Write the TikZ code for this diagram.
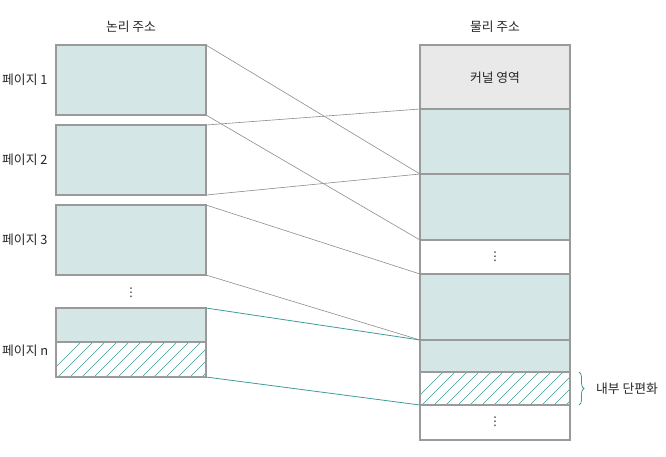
\documentclass[tikz,border=0pt]{standalone}
\usepackage{fontspec}
\setmainfont{Noto Sans CJK KR}
\newfontfamily\dotsfont{DejaVu Sans}
\usetikzlibrary{decorations.pathreplacing}
\definecolor{tealfill}{HTML}{D4E6E5}
\definecolor{boxline}{HTML}{9A9A9A}
\definecolor{kernfill}{HTML}{E9E9E9}
\definecolor{tealline}{HTML}{3E9C96}
\definecolor{mapline}{HTML}{8C8C8C}
\tikzset{
  pagebox/.style={draw=boxline, line width=1.2pt, fill=tealfill},
  whitebox/.style={draw=boxline, line width=1.2pt, fill=white},
  kernbox/.style={draw=boxline, line width=1.2pt, fill=kernfill},
  lbl/.style={font=\fontsize{12.8}{15}\selectfont, inner sep=0pt, text=black!85},
  vdot/.style={font=\dotsfont\fontsize{12}{12}\selectfont, inner sep=0pt, text=black!85},
  grayconn/.style={draw=mapline, line width=0.6pt},
  tealconn/.style={draw=tealline, line width=0.8pt},
  hatchline/.style={draw=tealline, line width=0.6pt},
}
\begin{document}
\begin{tikzpicture}[x=1pt,y=-1pt]
\useasboundingbox (0,0) rectangle (666,456);
% left column
\node[lbl] (lt) at (131,27) {논리 주소};
\path[pagebox] (56,45) rectangle (206,115);
\coordinate (p1t) at (206,45); \coordinate (p1b) at (206,115);
\path[pagebox] (56,125) rectangle (206,195);
\coordinate (p2t) at (206,125); \coordinate (p2b) at (206,195);
\path[pagebox] (56,205) rectangle (206,275);
\coordinate (p3t) at (206,205); \coordinate (p3b) at (206,275);
\node[vdot] (ldots) at (131,293) {⋮};
\path[pagebox] (56,308) rectangle (206,342);
\begin{scope}
\clip (56,342) rectangle (206,377);
\foreach \i in {0,...,16} {
  \draw[hatchline] (46+\i*12,377) -- (81+\i*12,342);
}
\end{scope}
\draw[boxline, line width=1.2pt] (56,342) rectangle (206,377);
\coordinate (pnt) at (206,308); \coordinate (pnb) at (206,377);
\node[lbl, anchor=west] (l1) at (2,80) {페이지 1};
\node[lbl, anchor=west] (l2) at (2,160) {페이지 2};
\node[lbl, anchor=west] (l3) at (2,240) {페이지 3};
\node[lbl, anchor=west] (ln) at (2,351) {페이지 n};
% right column
\node[lbl] (rt) at (495,27) {물리 주소};
\path[kernbox] (420,45) rectangle (570,109);
\node[lbl] (kern) at (495,78) {커널 영역};
\path[pagebox] (420,109) rectangle (570,174);
\path[pagebox] (420,174) rectangle (570,240);
\path[whitebox] (420,240) rectangle (570,274);
\node[vdot] (rd1) at (495,257) {⋮};
\path[pagebox] (420,274) rectangle (570,340);
\path[pagebox] (420,340) rectangle (570,372);
\begin{scope}
\clip (420,372) rectangle (570,405);
\foreach \i in {0,...,16} {
  \draw[hatchline] (410+\i*12,405) -- (443+\i*12,372);
}
\end{scope}
\draw[boxline, line width=1.2pt] (420,372) rectangle (570,405);
\path[whitebox] (420,405) rectangle (570,440);
\node[vdot] (rd2) at (495,422) {⋮};
\coordinate (f109) at (420,109);
\coordinate (f174) at (420,174);
\coordinate (f240) at (420,240);
\coordinate (f274) at (420,274);
\coordinate (f340) at (420,340);
\coordinate (f405) at (420,405);
% mapping lines
\draw[grayconn] (p1t) -- (f174);
\draw[grayconn] (p1b) -- (f240);
\draw[grayconn] (p2t) -- (f109);
\draw[grayconn] (p2b) -- (f174);
\draw[grayconn] (p3t) -- (f274);
\draw[grayconn] (p3b) -- (f340);
\draw[tealconn] (pnt) -- (f340);
\draw[tealconn] (pnb) -- (f405);
% brace
\coordinate (bt) at (579,372);
\coordinate (bb) at (579,405);
\draw[tealline, line width=0.8pt, decorate, decoration={brace, amplitude=5pt}] (bt) -- (bb);
\node[lbl, anchor=west] (frag) at (596,389) {내부 단편화};
\end{tikzpicture}
\end{document}
